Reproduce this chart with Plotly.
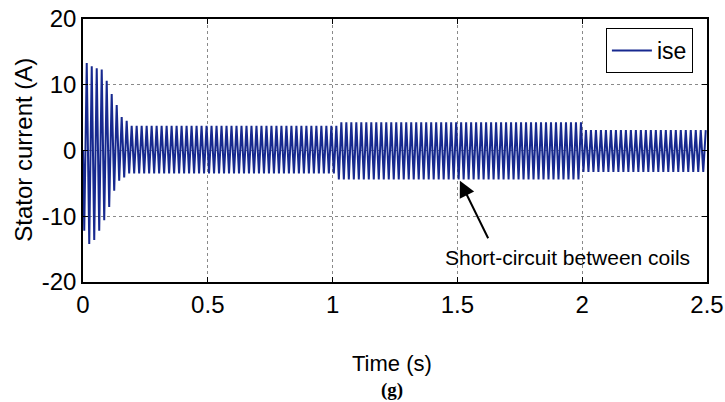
import plotly.graph_objects as go

# ---- data ----
supply_freq_hz = 50.0
t_end = 2.5

# transient peaks (one per cycle) right after start-up
transient_pos_peaks = [13.3, 12.8, 12.5, 12.3, 10.6, 8.6, 6.9, 5.1, 4.5]
transient_neg_peaks = [-12.2, -14.2, -13.6, -12.2, -10.6, -8.6, -6.1, -4.6, -4.1]

# steady-state envelope segments
seg_start = [0.18, 1.02, 2.00]
seg_end = [1.02, 2.00, 2.50]
seg_upper = [3.75, 4.3, 3.1]
seg_lower = [-3.5, -4.4, -3.25]

x_ticks = [0, 0.5, 1, 1.5, 2, 2.5]
x_tick_labels = ["0", "0.5", "1", "1.5", "2", "2.5"]
y_ticks = [-20, -10, 0, 10, 20]
y_tick_labels = ["-20", "-10", "0", "10", "20"]

# ---- build the waveform from the peak values (one point per half cycle) ----
half = 0.5 / supply_freq_hz
t_vals = [0.0]
i_vals = [0.0]
k = 0
while True:
    t = half / 2 + k * half
    if t > t_end:
        break
    cyc = k // 2
    neg = (k % 2 == 0)
    if cyc < len(transient_pos_peaks):
        v = transient_neg_peaks[cyc] if neg else transient_pos_peaks[cyc]
    else:
        v = None
        for s0, s1, up, lo in zip(seg_start, seg_end, seg_upper, seg_lower):
            if s0 <= t < s1 or (t >= s1 and s1 == seg_end[-1]):
                v = lo if neg else up
                break
    t_vals.append(t)
    i_vals.append(v)
    k += 1

FONT = "Liberation Sans, Arial, sans-serif"
LINE = "#17298f"

fig = go.Figure()
fig.add_trace(go.Scatter(x=t_vals, y=i_vals, mode="lines", name="ise",
                         line=dict(color=LINE, width=2)))

axis_common = dict(
    showline=True, linecolor="black", linewidth=1.5, mirror="ticks",
    ticks="inside", ticklen=5, tickwidth=1, tickcolor="black",
    showgrid=True, gridcolor="#8a8a8a", griddash="dot", gridwidth=1,
    zeroline=False, automargin=False,
    tickfont=dict(family=FONT, size=24, color="black"),
)

fig.update_xaxes(range=[0, t_end], tickvals=x_ticks, ticktext=x_tick_labels, **axis_common)
fig.update_yaxes(range=[-20, 20], tickvals=y_ticks, ticktext=y_tick_labels, **axis_common)

fig.update_layout(
    template="none",
    width=725, height=402,
    margin=dict(l=83, r=18, t=19, b=120, autoexpand=False),
    paper_bgcolor="white", plot_bgcolor="white",
    showlegend=True,
    legend=dict(x=0.838, y=0.966, xanchor="left", yanchor="top",
                bordercolor="black", borderwidth=1, bgcolor="white",
                font=dict(family=FONT, size=23, color="black"),
                itemwidth=40),
    annotations=[
        dict(text="Stator current (A)", xref="paper", yref="paper",
             x=-0.095, y=0.502, xanchor="center", yanchor="middle",
             showarrow=False, textangle=-90,
             font=dict(family=FONT, size=24, color="black")),
        dict(text="Time (s)", xref="paper", yref="paper",
             x=0.495, y=-0.31, xanchor="center", yanchor="middle",
             showarrow=False,
             font=dict(family=FONT, size=22, color="black")),
        dict(text="<b>(g)</b>", xref="paper", yref="paper",
             x=0.495, y=-0.41, xanchor="center", yanchor="middle",
             showarrow=False,
             font=dict(family="Liberation Serif, Times New Roman, serif", size=19, color="black")),
        dict(text="Short-circuit between coils", xref="paper", yref="paper",
             x=0.777, y=0.095, xanchor="center", yanchor="middle",
             showarrow=False,
             font=dict(family=FONT, size=21, color="black")),
        dict(text="", x=1.51, y=-4.6, xref="x", yref="y",
             showarrow=True, ax=29, ay=59, arrowhead=2, arrowsize=1.6,
             arrowwidth=2, arrowcolor="black"),
    ],
)

fig.write_html("out.html")
